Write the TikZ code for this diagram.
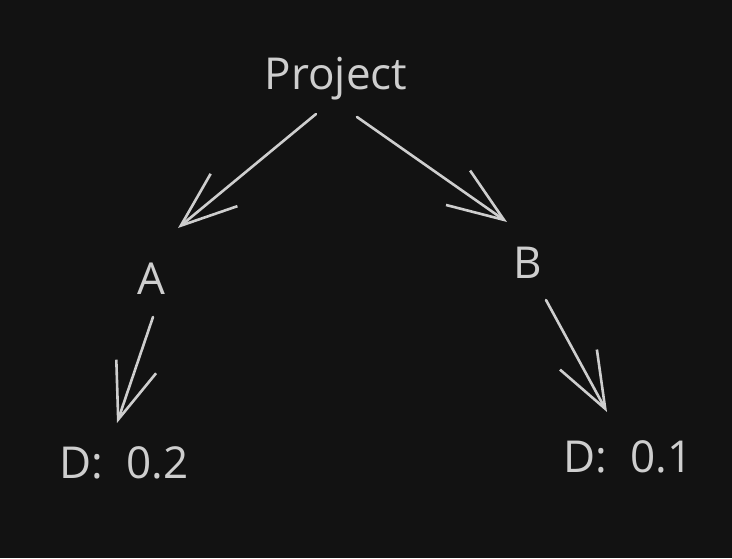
\documentclass[tikz,border=0pt]{standalone}
\usepackage{fontspec}
\setmainfont{Open Sans}
\usetikzlibrary{arrows.meta,calc}
\definecolor{bg}{RGB}{18,18,18}
\definecolor{ink}{RGB}{206,206,206}

\begin{document}
\begin{tikzpicture}[
  x=1pt,y=-1pt,
  every node/.style={font=\fontsize{44}{48}\selectfont,text=ink,inner sep=0pt},
  arr/.style={-{Straight Barb[length=56pt,width=42pt,line width=2.6pt]},
              draw=ink,line width=2.6pt,line cap=round}
]
\fill[bg] (0,0) rectangle (732,558);
\useasboundingbox (0,0) rectangle (732,558);
\node (proj) at (336,79) {Project};
\node (A) at (151,279) {A};
\node (B) at (528,263) {B};
\node (DA) at (124,463) {D:\ \ 0.2};
\node (DB) at (628,457) {D:\ \ 0.1};
\draw[arr] ($(proj)+(-20,35)$)--($(A)+(27,-51)$);
\draw[arr] ($(proj)+(21,38)$)--($(B)+(-21,-41)$);
\draw[arr] ($(A)+(2,38)$)--($(DA)+(-7,-40)$);
\draw[arr] ($(B)+(18,37)$)--($(DB)+(-21,-45)$);
\end{tikzpicture}
\end{document}
